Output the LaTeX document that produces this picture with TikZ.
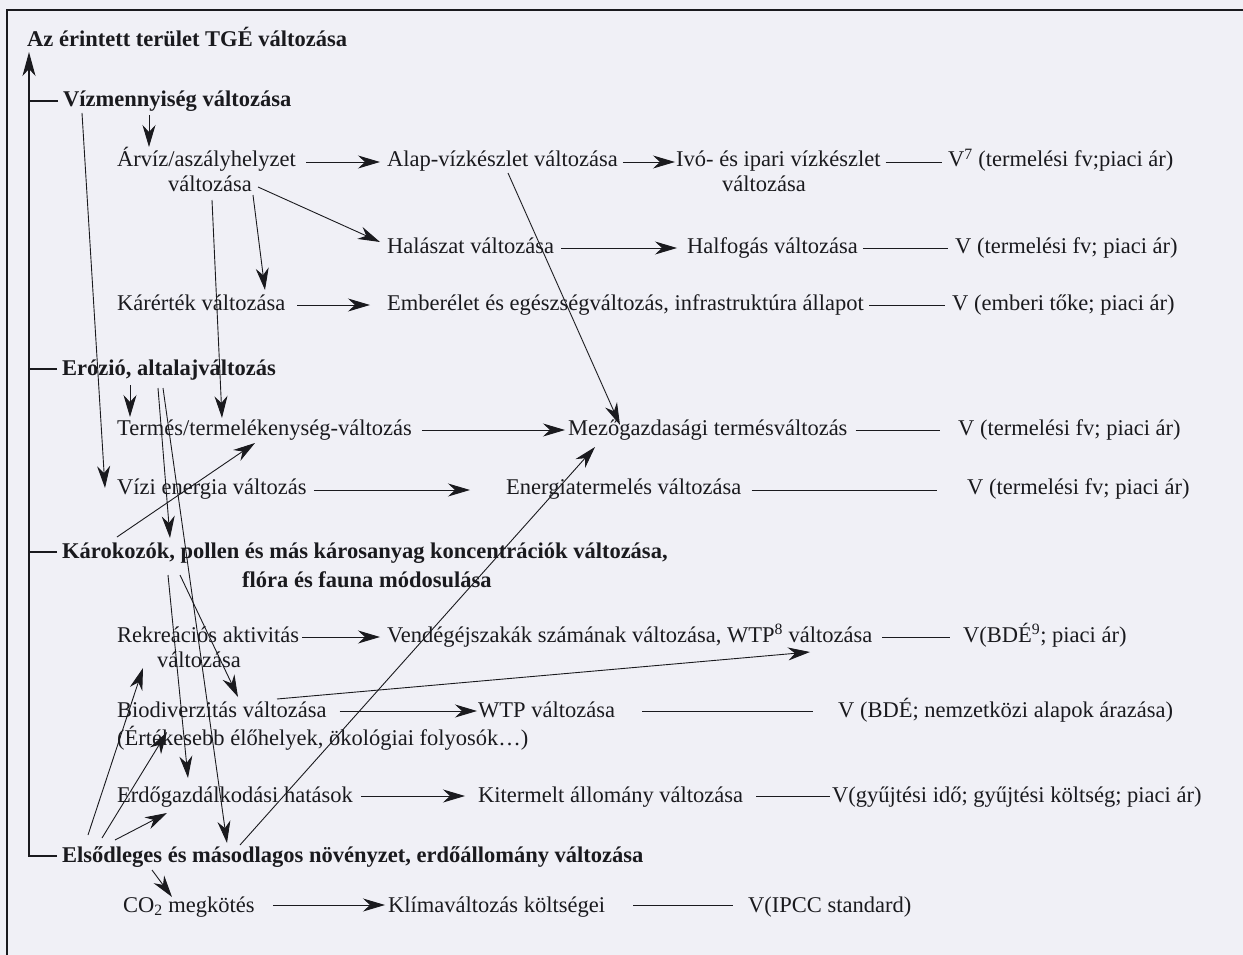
\documentclass[tikz,border=0pt]{standalone}
\usepackage{fontspec}
\setmainfont{Liberation Serif}
\usetikzlibrary{arrows.meta}
\definecolor{ink}{RGB}{26,26,30}
\definecolor{paper}{RGB}{240,240,246}
\tikzset{
  txt/.style={anchor=base west, inner sep=0pt, text=ink, font=\fontsize{22.5}{25}\selectfont},
  btxt/.style={txt, font=\fontsize{22.5}{25}\selectfont\bfseries},
  ln/.style={line width=0.9pt, draw=ink},
  arr/.style={ln, -{Stealth[length=22pt,width=13pt,inset=7pt]}},
  thick ln/.style={line width=1.2pt, draw=ink},
}
\begin{document}
\begin{tikzpicture}[x=1pt,y=-1pt]
\fill[paper] (0,0) rectangle (1243,955);
\useasboundingbox (0,0) rectangle (1243,955);
% frame
\draw[line width=1.6pt, draw=ink] (1243,10) -- (7,10) -- (7,955);

% nodes
\node[btxt] (title) at (27,47) {Az érintett terület TGÉ változása};
\node[btxt] (vizm) at (63,107) {Vízmennyiség változása};
\node[txt] (arviz) at (117,167) {Árvíz/aszályhelyzet};
\node[txt] (arviz2) at (168,192) {változása};
\node[txt] (alap) at (387,167) {Alap-vízkészlet változása};
\node[txt] (ivo) at (676,167) {Ivó- és ipari vízkészlet};
\node[txt] (ivo2) at (722,192) {változása};
\node[txt] (v7) at (948,167) {V\textsuperscript{7} (termelési fv;piaci ár)};
\node[txt] (halaszat) at (387,253) {Halászat változása};
\node[txt] (halfogas) at (687,253) {Halfogás változása};
\node[txt] (vhal) at (955,253) {V (termelési fv; piaci ár)};
\node[txt] (karertek) at (117,310) {Kárérték változása};
\node[txt] (ember) at (387,310) {Emberélet és egészségváltozás, infrastruktúra állapot};
\node[txt] (vember) at (952,310) {V (emberi tőke; piaci ár)};
\node[btxt] (eroz) at (62,375) {Erózió, altalajváltozás};
\node[txt] (termes) at (117,435) {Termés/termelékenység-változás};
\node[txt] (mezo) at (568,435) {Mezőgazdasági termésváltozás};
\node[txt] (vmezo) at (958,435) {V (termelési fv; piaci ár)};
\node[txt] (vizi) at (117,494) {Vízi energia változás};
\node[txt] (energia) at (506,494) {Energiatermelés változása};
\node[txt] (venergia) at (967,494) {V (termelési fv; piaci ár)};
\node[btxt] (karok) at (62,558) {Károkozók, pollen és más károsanyag koncentrációk változása,};
\node[btxt] (karok2) at (242,587) {flóra és fauna módosulása};
\node[txt] (rekr) at (117,642) {Rekreációs aktivitás};
\node[txt] (rekr2) at (157,667) {változása};
\node[txt] (vend) at (387,642) {Vendégéjszakák számának változása, WTP\textsuperscript{8} változása};
\node[txt] (vbde) at (963,642) {V(BDÉ\textsuperscript{9}; piaci ár)};
\node[txt] (biodiv) at (117,717) {Biodiverzitás változása};
\node[txt] (biodiv2) at (117,745) {(Értékesebb élőhelyek, ökológiai folyosók…)};
\node[txt] (wtp) at (478,717) {WTP változása};
\node[txt] (vwtp) at (838,717) {V (BDÉ; nemzetközi alapok árazása)};
\node[txt] (erdo) at (117,802) {Erdőgazdálkodási hatások};
\node[txt] (kiterm) at (478,802) {Kitermelt állomány változása};
\node[txt] (vkiterm) at (832,802) {V(gyűjtési idő; gyűjtési költség; piaci ár)};
\node[btxt] (elsod) at (62,862) {Elsődleges és másodlagos növényzet, erdőállomány változása};
\node[txt] (co2) at (123,912) {CO\textsubscript{2} megkötés};
\node[txt] (klima) at (388,912) {Klímaváltozás költségei};
\node[txt] (vipcc) at (748,912) {V(IPCC standard)};

% main vertical arrow and stubs
\draw[thick ln, -{Stealth[length=24pt,width=13pt,inset=7pt]}]
  ([xshift=-5pt,yshift=6pt]elsod.base west) -| ([xshift=2pt,yshift=-5pt]title.base west);
\draw[thick ln] ([xshift=-5pt,yshift=6pt]vizm.base west) -- ++(-29pt,0);
\draw[thick ln] ([xshift=-5pt,yshift=6pt]eroz.base west) -- ++(-28pt,0);
\draw[thick ln] ([xshift=-5pt,yshift=6pt]karok.base west) -- ++(-28pt,0);

% horizontal connectors
\draw[arr] ([xshift=10pt,yshift=5pt]arviz.base east) -- ([xshift=-7pt,yshift=5pt]alap.base west);
\draw[arr] ([xshift=5pt,yshift=5pt]alap.base east) -- ([xshift=-1pt,yshift=5pt]ivo.base west);
\draw[ln] ([xshift=5pt,yshift=5pt]ivo.base east) -- ([xshift=-6pt,yshift=5pt]v7.base west);
\draw[arr] ([xshift=7pt,yshift=5pt]halaszat.base east) -- ([xshift=-10pt,yshift=5pt]halfogas.base west);
\draw[ln] ([xshift=5pt,yshift=5pt]halfogas.base east) -- ([xshift=-7pt,yshift=5pt]vhal.base west);
\draw[arr] ([xshift=12pt,yshift=5pt]karertek.base east) -- ([xshift=-17pt,yshift=5pt]ember.base west);
\draw[ln] ([xshift=5pt,yshift=5pt]ember.base east) -- ([xshift=-7pt,yshift=5pt]vember.base west);
\draw[arr] ([xshift=10pt,yshift=5pt]termes.base east) -- ([xshift=-3pt,yshift=5pt]mezo.base west);
\draw[ln] ([xshift=8pt,yshift=5pt]mezo.base east) -- ([xshift=-18pt,yshift=5pt]vmezo.base west);
\draw[arr] ([xshift=7pt,yshift=4pt]vizi.base east) -- ([xshift=-36pt,yshift=4pt]energia.base west);
\draw[ln] ([xshift=10pt,yshift=4pt]energia.base east) -- ([xshift=-30pt,yshift=4pt]venergia.base west);
\draw[arr] ([xshift=3pt,yshift=5pt]rekr.base east) -- ([xshift=-7pt,yshift=5pt]vend.base west);
\draw[ln] ([xshift=10pt,yshift=5pt]vend.base east) -- ([xshift=-13pt,yshift=5pt]vbde.base west);
\draw[arr] ([xshift=13pt,yshift=6pt]biodiv.base east) -- ([xshift=-1pt,yshift=6pt]wtp.base west);
\draw[ln] ([xshift=27pt,yshift=6pt]wtp.base east) -- ([xshift=-25pt,yshift=6pt]vwtp.base west);
\draw[arr] ([xshift=8pt,yshift=6pt]erdo.base east) -- ([xshift=-13pt,yshift=6pt]kiterm.base west);
\draw[ln] ([xshift=13pt,yshift=6pt]kiterm.base east) -- ([xshift=-2pt,yshift=6pt]vkiterm.base west);
\draw[arr] ([xshift=18pt,yshift=7pt]co2.base east) -- ([xshift=-3pt,yshift=7pt]klima.base west);
\draw[ln] ([xshift=28pt,yshift=7pt]klima.base east) -- ([xshift=-15pt,yshift=7pt]vipcc.base west);

% diagonal / vertical connectors
\draw[arr] ([shift={(19pt,-6pt)}]vizm.base west) -- ([shift={(-12pt,6pt)}]vizi.base west);
\draw[arr] ([shift={(86pt,-8pt)}]vizm.base west) -- ([shift={(32pt,20pt)}]arviz.base west);
\draw[arr] ([shift={(44pt,-8pt)}]arviz2.base west) -- ([shift={(105pt,17pt)}]termes.base west);
\draw[arr] ([shift={(85pt,-3pt)}]arviz2.base west) -- ([shift={(148pt,20pt)}]karertek.base west);
\draw[arr] ([shift={(90pt,5pt)}]arviz2.base west) -- ([shift={(-7pt,11pt)}]halaszat.base west);
\draw[arr] ([shift={(121pt,-6pt)}]alap.base west) -- ([shift={(52pt,10pt)}]mezo.base west);
\draw[arr] ([shift={(68pt,-10pt)}]eroz.base west) -- ([shift={(13pt,18pt)}]termes.base west);
\draw[arr] ([shift={(96pt,-13pt)}]eroz.base west) -- ([shift={(108pt,20pt)}]karok.base west);
\draw[arr] ([shift={(101pt,-13pt)}]eroz.base west) -- ([shift={(165pt,19pt)}]elsod.base west);
\draw[arr] ([shift={(55pt,21pt)}]karok.base west) -- ([shift={(138pt,-8pt)}]termes.base west);
\draw[arr] ([shift={(106pt,-17pt)}]karok.base west) -- ([shift={(71pt,24pt)}]erdo.base west);
\draw[arr] ([shift={(118pt,-17pt)}]karok.base west) -- ([shift={(121pt,20pt)}]biodiv.base west);
\draw[arr] ([shift={(160pt,18pt)}]biodiv.base west) -- ([shift={(-153pt,-10pt)}]vbde.base west);
\draw[arr] ([shift={(26pt,27pt)}]elsod.base west) -- ([shift={(26pt,-26pt)}]rekr.base west);
\draw[arr] ([shift={(40pt,24pt)}]elsod.base west) -- ([shift={(50pt,13pt)}]biodiv2.base west);
\draw[arr] ([shift={(53pt,22pt)}]elsod.base west) -- ([shift={(50pt,-11pt)}]erdo.base west);
\draw[arr] ([shift={(90pt,-8pt)}]elsod.base west) -- ([shift={(49pt,15pt)}]co2.base west);
\draw[arr] ([shift={(178pt,17pt)}]elsod.base west) -- ([shift={(27pt,-12pt)}]mezo.base west);
\end{tikzpicture}
\end{document}
